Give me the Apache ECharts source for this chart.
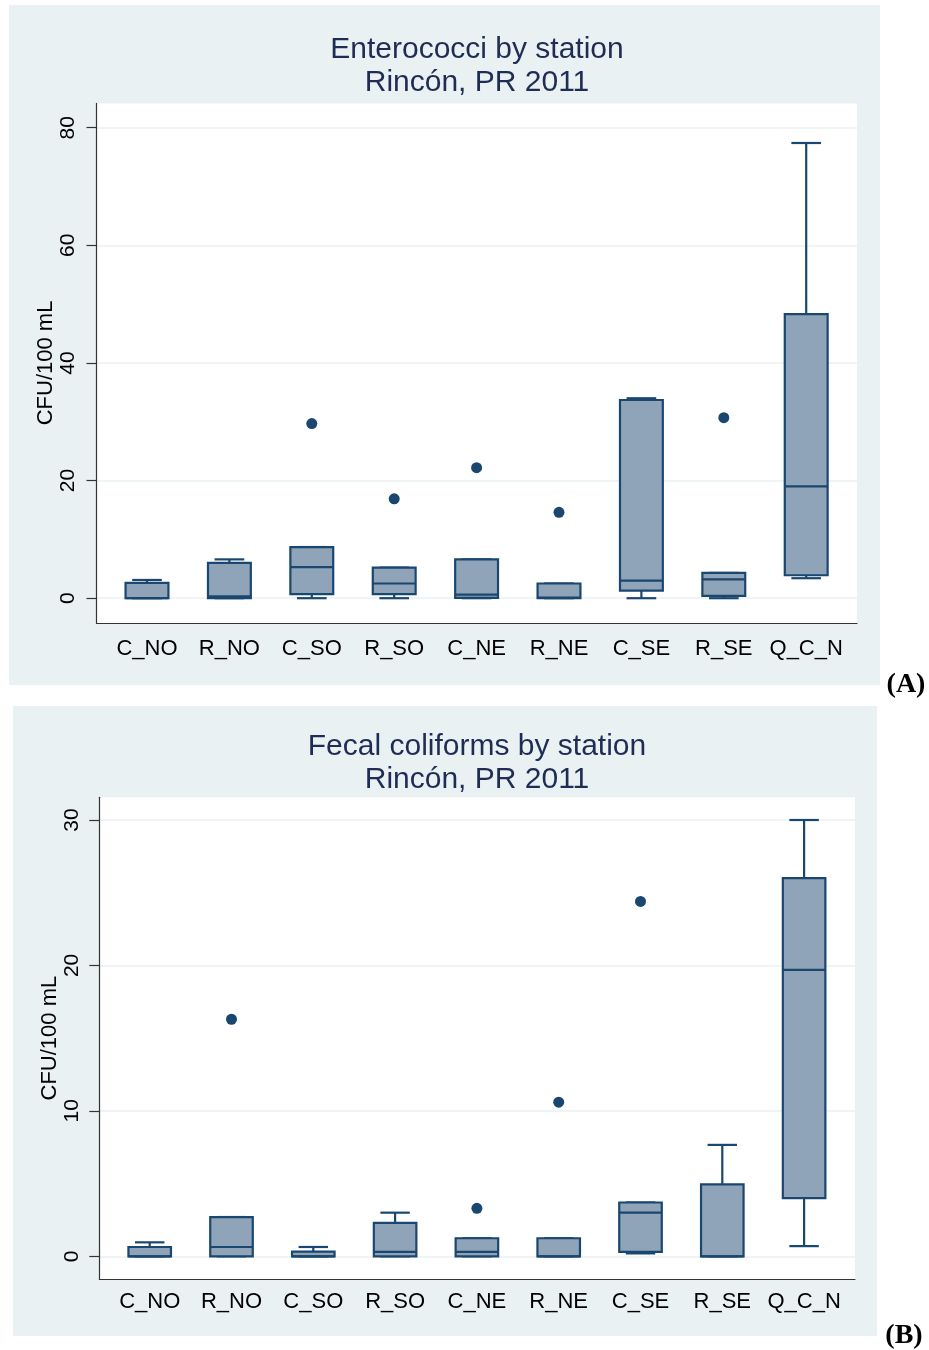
<!DOCTYPE html>
<html><head><meta charset="utf-8">
<script src="https://cdn.jsdelivr.net/npm/echarts@6/dist/echarts.min.js"></script>
<style>html,body{margin:0;padding:0;background:#fff}#c{width:929px;height:1350px}</style>
</head><body><div id="c"></div>
<script>
// ---------- data ----------
const stations = ['C_NO','R_NO','C_SO','R_SO','C_NE','R_NE','C_SE','R_SE','Q_C_N'];

// Panel A: Enterococci (CFU/100 mL)
const entMin = [0, 0, 0, 0, 0, 0, 0, 0, 3.4];
const entQ1  = [0, 0, 0.7, 0.7, 0.05, 0, 1.3, 0.4, 3.9];
const entMed = [0, 0.3, 5.3, 2.5, 0.6, 0.1, 3.0, 3.2, 19.0];
const entQ3  = [2.6, 6.0, 8.7, 5.2, 6.6, 2.5, 33.7, 4.3, 48.3];
const entMax = [3.1, 6.6, 8.7, 5.2, 6.6, 2.5, 34.0, 4.3, 77.4];
const entOutStation = ['C_SO','R_SO','C_NE','R_NE','R_SE'];
const entOutValue   = [29.7, 16.9, 22.2, 14.6, 30.7];
const entTicks = [0, 20, 40, 60, 80];

// Panel B: Fecal coliforms (CFU/100 mL)
const fecMin = [0, 0, 0, 0, 0, 0, 0.2, 0, 0.7];
const fecQ1  = [0, 0, 0, 0, 0, 0, 0.3, 0, 4.0];
const fecMed = [0, 0.64, 0, 0.3, 0.3, 0, 3.0, 0, 19.7];
const fecQ3  = [0.64, 2.7, 0.32, 2.3, 1.24, 1.24, 3.7, 4.95, 26.0];
const fecMax = [0.96, 2.7, 0.64, 3.0, 1.24, 1.24, 3.7, 7.66, 30.0];
const fecOutStation = ['R_NO','C_NE','R_NE','C_SE'];
const fecOutValue   = [16.3, 3.3, 10.6, 24.4];
const fecTicks = [0, 10, 20, 30];

const titleA = 'Enterococci by station\nRincón, PR 2011';
const titleB = 'Fecal coliforms by station\nRincón, PR 2011';
const yName = 'CFU/100 mL';

// ---------- styles ----------
const NAVY = '#1a476f';
const FILL = '#8fa4b9';
const PANEL = '#eaf1f3';
const GRIDC = '#eaf1f3';
const FONT = '"Liberation Sans", Arial, Helvetica, sans-serif';

function boxRenderer(params, api) {
  const i = api.value(0);
  const pLo = api.coord([i, api.value(1)]);
  const pQ1 = api.coord([i, api.value(2)]);
  const pMd = api.coord([i, api.value(3)]);
  const pQ3 = api.coord([i, api.value(4)]);
  const pHi = api.coord([i, api.value(5)]);
  const band = api.size([1, 0])[0];
  const bw = band * 0.52, cw = band * 0.36, x = pMd[0];
  const ls = {stroke: NAVY, lineWidth: 2.2, fill: null};
  return {type: 'group', children: [
    {type: 'line', shape: {x1: x, y1: pQ3[1], x2: x, y2: pHi[1]}, style: ls},
    {type: 'line', shape: {x1: x - cw/2, y1: pHi[1], x2: x + cw/2, y2: pHi[1]}, style: ls},
    {type: 'line', shape: {x1: x, y1: pQ1[1], x2: x, y2: pLo[1]}, style: ls},
    {type: 'line', shape: {x1: x - cw/2, y1: pLo[1], x2: x + cw/2, y2: pLo[1]}, style: ls},
    {type: 'rect', shape: {x: x - bw/2, y: pQ3[1], width: bw, height: pQ1[1] - pQ3[1]},
      style: {fill: FILL, stroke: NAVY, lineWidth: 2.2}},
    {type: 'line', shape: {x1: x - bw/2, y1: pMd[1], x2: x + bw/2, y2: pMd[1]}, style: ls}
  ]};
}

function boxData(mn, q1, md, q3, mx) {
  return stations.map((s, i) => [i, mn[i], q1[i], md[i], q3[i], mx[i]]);
}

// layout per panel
const P = [
  {frame: {left: 96.5, top: 103.4, width: 760.5, height: 519.5},
   ticks: {left: 96.5, top: 127.7, width: 760.5, height: 470.5},
   data:  {left: 105.8, top: 127.7, width: 741.6, height: 470.5},
   ymax: 80, step: 20, nameGap: 40, labMargin: 18, xMargin: 40},
  {frame: {left: 99.3, top: 797.3, width: 755.7, height: 481.7},
   ticks: {left: 99.3, top: 820, width: 755.7, height: 436.3},
   data:  {left: 108.8, top: 820, width: 736.2, height: 436.3},
   ymax: 30, step: 10, nameGap: 38, labMargin: 17, xMargin: 35}
];

const grid = [], xAxis = [], yAxis = [];
P.forEach((p, k) => {
  // frame grid (white plot region + axis lines)
  grid.push(Object.assign({show: true, backgroundColor: '#fff', borderWidth: 0}, p.frame));
  xAxis.push({type: 'value', gridIndex: 3*k, min: 0, max: 1, position: 'bottom',
    axisLine: {show: true, onZero: false, lineStyle: {color: '#333', width: 1.2}},
    axisTick: {show: false}, axisLabel: {show: false}, splitLine: {show: false}});
  yAxis.push({type: 'value', gridIndex: 3*k, min: 0, max: 1,
    axisLine: {show: true, onZero: false, lineStyle: {color: '#333', width: 1.2}},
    axisTick: {show: false}, axisLabel: {show: false}, splitLine: {show: false}});
  // ticks grid
  grid.push(Object.assign({}, p.ticks));
  xAxis.push({type: 'value', gridIndex: 3*k+1, min: 0, max: 1, show: false});
  yAxis.push({type: 'value', gridIndex: 3*k+1, min: 0, max: p.ymax, interval: p.step,
    name: yName, nameLocation: 'middle', nameRotate: 90, nameGap: p.nameGap, nameMoveOverlap: false,
    nameTextStyle: {fontFamily: FONT, fontSize: 22, color: '#000'},
    axisLine: {show: false},
    axisTick: {show: true, inside: false, length: 10, lineStyle: {color: '#333', width: 1.2}},
    axisLabel: {rotate: 90, margin: p.labMargin, fontFamily: FONT, fontSize: 21, color: '#000'},
    splitLine: {show: true, lineStyle: {color: GRIDC, width: 1.5}}});
  // data grid
  grid.push(Object.assign({}, p.data));
  xAxis.push({type: 'category', gridIndex: 3*k+2, data: stations, boundaryGap: true,
    axisLine: {show: false}, axisTick: {show: false},
    axisLabel: {margin: p.xMargin, fontFamily: FONT, fontSize: 22, color: '#000', interval: 0}});
  yAxis.push({type: 'value', gridIndex: 3*k+2, min: 0, max: p.ymax, interval: p.step, show: false});
});

const series = [
  {type: 'custom', xAxisIndex: 2, yAxisIndex: 2, renderItem: boxRenderer,
   dimensions: ['station','lo','q1','med','q3','hi'], encode: {x: 0, y: [1,2,3,4,5]},
   data: boxData(entMin, entQ1, entMed, entQ3, entMax), z: 3},
  {type: 'scatter', xAxisIndex: 2, yAxisIndex: 2, symbol: 'circle', symbolSize: 11,
   itemStyle: {color: NAVY, opacity: 1}, data: entOutStation.map((s, j) => [s, entOutValue[j]]), z: 4},
  {type: 'custom', xAxisIndex: 5, yAxisIndex: 5, renderItem: boxRenderer,
   dimensions: ['station','lo','q1','med','q3','hi'], encode: {x: 0, y: [1,2,3,4,5]},
   data: boxData(fecMin, fecQ1, fecMed, fecQ3, fecMax), z: 3},
  {type: 'scatter', xAxisIndex: 5, yAxisIndex: 5, symbol: 'circle', symbolSize: 11,
   itemStyle: {color: NAVY, opacity: 1}, data: fecOutStation.map((s, j) => [s, fecOutValue[j]]), z: 4}
];

const titleStyle = {fontFamily: FONT, fontSize: 30, fontWeight: 'normal', color: '#1f2d55', lineHeight: 33};
const tagStyle = {fontFamily: '"Liberation Serif", "Times New Roman", serif', fontSize: 28, fontWeight: 'bold', color: '#000'};

const option = {
  animation: false,
  backgroundColor: '#fff',
  graphic: [
    {type: 'rect', shape: {x: 9, y: 5, width: 871, height: 680}, style: {fill: PANEL}, z: -10, silent: true},
    {type: 'rect', shape: {x: 13, y: 706, width: 864, height: 630}, style: {fill: PANEL}, z: -10, silent: true}
  ],
  title: [
    {text: titleA, left: 477, top: 33, textAlign: 'center', textStyle: titleStyle, padding: 0},
    {text: titleB, left: 477, top: 730, textAlign: 'center', textStyle: titleStyle, padding: 0},
    {text: '(A)', left: 906, top: 671, textAlign: 'center', textStyle: tagStyle, padding: 0},
    {text: '(B)', left: 904, top: 1322, textAlign: 'center', textStyle: tagStyle, padding: 0}
  ],
  grid, xAxis, yAxis, series
};

const chart = echarts.init(document.getElementById('c'), null, {renderer: 'canvas'});
chart.setOption(option);
</script>
</body></html>
